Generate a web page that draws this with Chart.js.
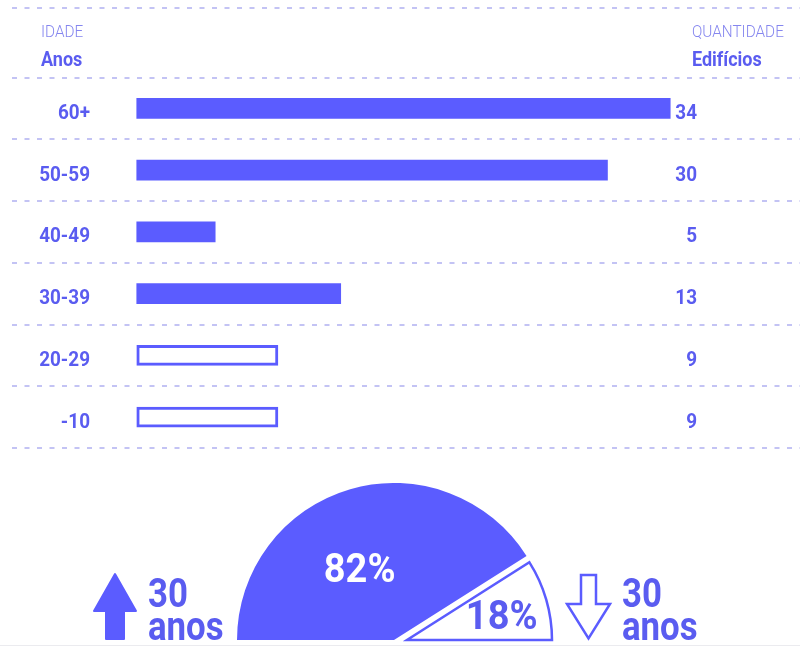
<!DOCTYPE html>
<html lang="pt">
<head>
<meta charset="utf-8">
<title>Idade dos edifícios</title>
<script src="https://cdn.jsdelivr.net/npm/chart.js@4.4.1/dist/chart.umd.min.js"></script>
<style>
  html, body { margin: 0; padding: 0; background: #ffffff; }
  body { width: 800px; height: 648px; position: relative; overflow: hidden; font-family: Roboto, sans-serif; }
  canvas { position: absolute; display: block; }
  #bars { left: 0; top: 0; }
  #pieOld { left: 237px; top: 483px; }
  #pieNew { left: 258px; top: 491px; }
  #overlay { position: absolute; left: 0; top: 0; pointer-events: none; }
  .rule { position: absolute; left: 0; top: 645px; width: 800px; height: 1px; background: #ebebef; }
</style>
</head>
<body>
<canvas id="bars" width="800" height="460"></canvas>
<canvas id="pieOld" width="314" height="157"></canvas>
<canvas id="pieNew" width="298" height="153"></canvas>
<div class="rule"></div>
<svg id="overlay" width="800" height="648" viewBox="0 0 800 648">
  <!-- up arrow: 30 anos or more -->
  <polygon points="115,574 136,611 124,611 124,639 106,639 106,611 94,611"
           fill="#5b5cff" stroke="#5b5cff" stroke-width="2" stroke-linejoin="round"/>
  <g fill="#5a5cf0" font-family="Roboto" font-weight="700" font-size="40">
    <text transform="translate(148,607) scale(0.87,1)">30</text>
    <text transform="translate(148,640) scale(0.87,1)">anos</text>
  </g>
  <!-- down arrow: under 30 anos -->
  <polygon points="581,575 596,575 596,604 610,604 588.5,638.5 567,604 581,604"
           fill="none" stroke="#5b5cff" stroke-width="2.5" stroke-linejoin="miter"/>
  <g fill="#5a5cf0" font-family="Roboto" font-weight="700" font-size="40">
    <text transform="translate(622,607) scale(0.87,1)">30</text>
    <text transform="translate(622,640) scale(0.87,1)">anos</text>
  </g>
</svg>
<script>
// Age groups of the buildings and how many buildings fall in each
const ageGroups = ['60+', '50-59', '40-49', '30-39', '20-29', '-10'];
const ageFloor = [60, 50, 40, 30, 20, 0];
const buildingCounts = [34, 30, 5, 13, 9, 9];

// Share of buildings at least 30 years old vs. younger
const shareGroups = ['30 anos ou mais', 'menos de 30 anos'];
const shareValues = [82, 18];

const AGE_LIMIT = 30;
const BLUE = '#5b5cff';
const TEXT = '#5a5cf0';
const LIGHT = '#8586ef';
const GRID = '#c3c3f4';
const DASH = [5, 7.5];

function condensedText(ctx, text, x, y, font, color, align, sx) {
  ctx.save();
  ctx.font = font;
  ctx.fillStyle = color;
  ctx.textAlign = align;
  ctx.textBaseline = 'alphabetic';
  ctx.translate(x, y);
  ctx.scale(sx, 1);
  ctx.fillText(text, 0, 0);
  ctx.restore();
}

// Column titles, row labels and the counts at the end of each row
const rowText = {
  id: 'rowText',
  afterDatasetsDraw(chart) {
    const { ctx, chartArea, scales: { y } } = chart;
    ctx.save();
    ctx.strokeStyle = GRID;
    ctx.lineWidth = 2;
    ctx.setLineDash(DASH);
    ctx.beginPath();
    ctx.moveTo(chartArea.left, 8);
    ctx.lineTo(chartArea.right, 8);
    ctx.stroke();
    ctx.restore();

    condensedText(ctx, 'IDADE', 41, 37, '300 17px Roboto', LIGHT, 'left', 0.9);
    condensedText(ctx, 'Anos', 41, 66, '700 20px Roboto', TEXT, 'left', 0.9);
    condensedText(ctx, 'QUANTIDADE', 692, 37, '300 17px Roboto', LIGHT, 'left', 0.9);
    condensedText(ctx, 'Edifícios', 692, 66, '700 20px Roboto', TEXT, 'left', 0.9);

    ageGroups.forEach((group, i) => {
      const base = y.getPixelForValue(i) + 10.5;
      condensedText(ctx, group, 90, base, '700 21px Roboto', TEXT, 'right', 0.9);
      condensedText(ctx, String(buildingCounts[i]), 697, base, '700 21px Roboto', TEXT, 'right', 0.9);
    });
  }
};

new Chart(document.getElementById('bars'), {
  type: 'bar',
  data: {
    labels: ageGroups,
    datasets: [{
      data: buildingCounts,
      backgroundColor: ageFloor.map(f => f < AGE_LIMIT ? '#ffffff' : BLUE),
      borderColor: BLUE,
      borderWidth: ageFloor.map(f => f < AGE_LIMIT ? 3 : 0),
      borderSkipped: false,
      barThickness: 20
    }]
  },
  options: {
    indexAxis: 'y',
    responsive: false,
    animation: false,
    events: [],
    layout: { padding: { top: 77.5, bottom: 12, left: 12, right: 0 } },
    plugins: { legend: { display: false }, tooltip: { enabled: false } },
    scales: {
      x: { type: 'linear', display: false, min: -7.95, max: 42.27 },
      y: {
        type: 'category',
        grid: { offset: true, color: GRID, lineWidth: 2, drawTicks: false },
        border: { display: false, dash: DASH },
        ticks: { display: false },
        afterFit(scale) { scale.width = 0; }
      }
    }
  },
  plugins: [rowText]
});

// Percentage written inside one slice of a half pie
function sliceLabel(index, color, at, shift) {
  return {
    id: 'sliceLabel' + index,
    afterDatasetsDraw(chart) {
      const arc = chart.getDatasetMeta(0).data[index];
      const { x, y, startAngle, endAngle, outerRadius } = arc.getProps(['x', 'y', 'startAngle', 'endAngle', 'outerRadius'], true);
      const mid = (startAngle + endAngle) / 2;
      const px = x + Math.cos(mid) * outerRadius * at + shift[0];
      const py = y + Math.sin(mid) * outerRadius * at + shift[1];
      condensedText(chart.ctx, shareValues[index] + '%', px, py + 14, '700 40px Roboto', color, 'center', 0.95);
    }
  };
}

const halfPie = {
  responsive: false,
  animation: false,
  events: [],
  rotation: -90,
  circumference: 180,
  plugins: { legend: { display: false }, tooltip: { enabled: false } }
};

// 30 anos or more: filled slice
new Chart(document.getElementById('pieOld'), {
  type: 'pie',
  data: {
    labels: shareGroups,
    datasets: [{ data: shareValues, backgroundColor: [BLUE, 'rgba(0,0,0,0)'], borderWidth: 0 }]
  },
  options: Object.assign({}, halfPie, { layout: { padding: 0 } }),
  plugins: [sliceLabel(0, '#ffffff', 0.51, [-12, 5])]
});

// under 30 anos: outlined slice pulled away from the rest
new Chart(document.getElementById('pieNew'), {
  type: 'pie',
  data: {
    labels: shareGroups,
    datasets: [{
      data: shareValues,
      backgroundColor: ['rgba(0,0,0,0)', '#ffffff'],
      borderColor: BLUE,
      borderWidth: [0, 2.5],
      borderJoinStyle: 'miter'
    }]
  },
  options: Object.assign({}, halfPie, { radius: 145, layout: { padding: 4 } }),
  plugins: [sliceLabel(1, TEXT, 0.68, [0, 3])]
});
</script>
</body>
</html>
